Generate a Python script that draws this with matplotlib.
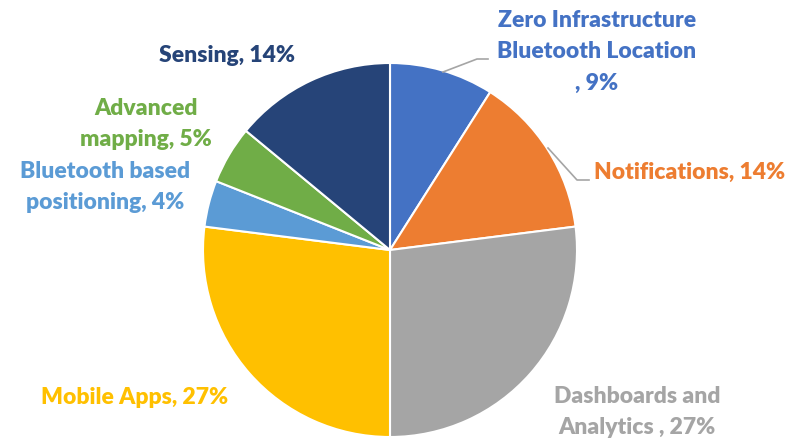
import matplotlib
matplotlib.use("Agg")
import matplotlib.pyplot as plt

categories = ["Zero Infrastructure\nBluetooth Location\n", "Notifications", "Dashboards and\nAnalytics ",
              "Mobile Apps", "Bluetooth based\npositioning", "Advanced\nmapping", "Sensing"]
values = [9, 14, 27, 27, 4, 5, 14]
colors = ["#4472C4", "#ED7D31", "#A5A5A5", "#FFC000", "#5B9BD5", "#70AD47", "#264478"]

W, H = 799, 442
fig = plt.figure(figsize=(W / 100, H / 100), dpi=100)
cx, cy, r = 390, 250, 187
ax = fig.add_axes([(cx - r) / W, (H - cy - r) / H, 2 * r / W, 2 * r / H])
ax.pie(values, colors=colors, startangle=90, counterclock=False, radius=1,
       wedgeprops=dict(edgecolor="white", linewidth=1.5))
ax.set_xlim(-1, 1)
ax.set_ylim(-1, 1)
ax.set_aspect("equal")
ax.axis("off")

over = fig.add_axes([0, 0, 1, 1], facecolor="none")
over.set_xlim(0, W)
over.set_ylim(H, 0)
over.axis("off")

font = dict(family=["Lato", "DejaVu Sans"], fontweight="heavy", fontsize=16.5, linespacing=1.62)
# label anchor positions (pixels), alignment
pos = [(597, 52, "center"), (594, 172, "left"), (637, 412, "center"), (135, 398, "center"),
       (105, 187, "center"), (146, 124, "center"), (227, 55, "center")]
for cat, v, c, (x, y, ha) in zip(categories, values, colors, pos):
    over.text(x, y, f"{cat}, {v}%", color=c, ha=ha, va="center", **font)

# leader lines
over.plot([548, 577, 589], [148, 180, 180], color="#A5A5A5", lw=1.2)
over.plot([443, 477, 488], [72, 59, 59], color="#A5A5A5", lw=1.2)

fig.savefig("out.png", dpi=100)
